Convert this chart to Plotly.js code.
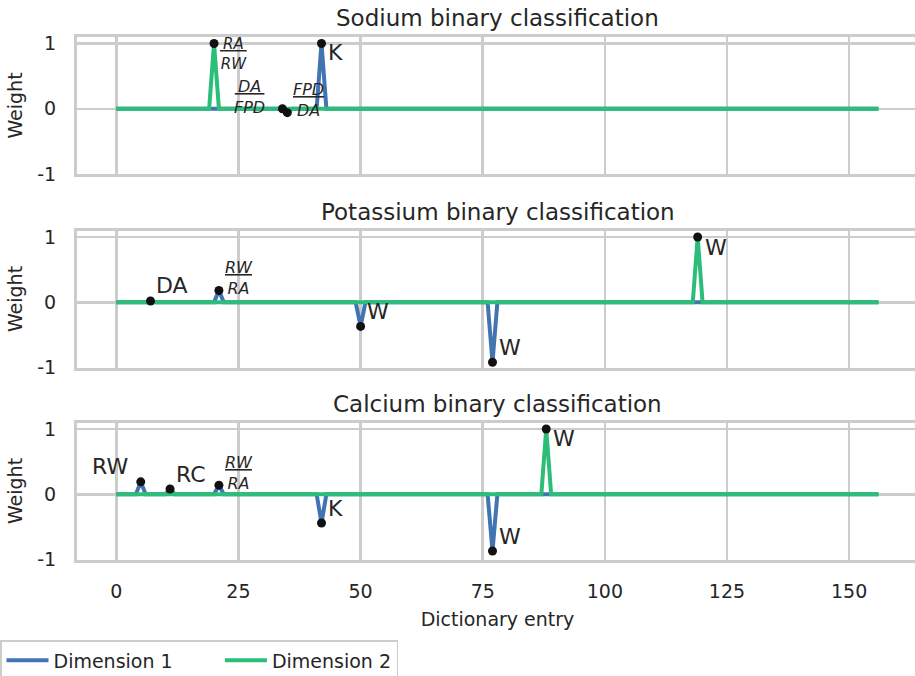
<!DOCTYPE html>
<html>
<head>
<meta charset="utf-8">
<script src="https://cdn.plot.ly/plotly-3.0.1.min.js"></script>
<style>
  html, body { margin: 0; padding: 0; overflow: hidden; background: #ffffff; }
</style>
</head>
<body>
<div id="chart"></div>
<script>
// ---- data -------------------------------------------------------------
const entryCount = 157;                 // dictionary entries 0 .. 156
const xTickVals = [0, 25, 50, 75, 100, 125, 150];
const yTickVals = [-1, 0, 1];
const yTickText = ['-1', '0', '1'];
const seriesNames = ['Dimension 1', 'Dimension 2'];
const panelTitles = ['Sodium binary classification',
                     'Potassium binary classification',
                     'Calcium binary classification'];

// non-zero weights of each dimension: entry index and weight
const sodiumDim1Idx = [34, 35, 42];
const sodiumDim1Val = [0.0, -0.06, 1.0];
const sodiumDim2Idx = [20];
const sodiumDim2Val = [1.0];
const sodiumLabelIdx = [20, 34, 35, 42];
const sodiumLabels = ['RA/RW', 'DA/FPD', 'FPD/DA', 'K'];

const potassiumDim1Idx = [7, 21, 50, 77];
const potassiumDim1Val = [0.02, 0.18, -0.37, -0.92];
const potassiumDim2Idx = [119];
const potassiumDim2Val = [1.0];
const potassiumLabelIdx = [7, 21, 50, 77, 119];
const potassiumLabels = ['DA', 'RW/RA', 'W', 'W', 'W'];

const calciumDim1Idx = [5, 11, 21, 42, 77];
const calciumDim1Val = [0.19, 0.08, 0.14, -0.44, -0.87];
const calciumDim2Idx = [88];
const calciumDim2Val = [1.0];
const calciumLabelIdx = [5, 11, 21, 42, 77, 88];
const calciumLabels = ['RW', 'RC', 'RW/RA', 'K', 'W', 'W'];

// ---- label placement (pixel offsets from the marked point) -------------
const sodiumLabelPlace = [
  {dx: 5, dy: 10, anchor: 'left', size: 15, pad: true},
  {dx: -16, dy: -12, anchor: 'right', size: 16, pad: true},
  {dx: 5, dy: -12.5, anchor: 'left', size: 16, pad: false},
  {dx: 5, dy: 9, anchor: 'left', size: 22}
];
const potassiumLabelPlace = [
  {dx: 4, dy: -15, anchor: 'left', size: 22},
  {dx: 5, dy: -12.5, anchor: 'left', size: 16, pad: false},
  {dx: 5, dy: -15, anchor: 'left', size: 22},
  {dx: 5.5, dy: -15, anchor: 'left', size: 22},
  {dx: 6, dy: 10, anchor: 'left', size: 22}
];
const calciumLabelPlace = [
  {dx: -12, dy: -15, anchor: 'right', size: 22},
  {dx: 4.5, dy: -14.5, anchor: 'left', size: 22},
  {dx: 5, dy: -12.5, anchor: 'left', size: 16, pad: false},
  {dx: 5.5, dy: -14.5, anchor: 'left', size: 22},
  {dx: 5.5, dy: -14.5, anchor: 'left', size: 22},
  {dx: 6, dy: 9.5, anchor: 'left', size: 22}
];

// ---- styling ----------------------------------------------------------
const FONT = 'DejaVu Sans, Liberation Sans, sans-serif';
const TEXT = '#262626';
const GRID = '#cccccc';
const COLORS = ['#4274b4', '#2cbe78'];
const W = 918, H = 676, ML = 77;
// panel plot areas, in pixels from the top of the figure
const panelPx = [[37, 174], [230.5, 367.5], [422.5, 559.5]];
// extra room after each legend entry (non-breaking spaces)
const legendGap = ['\u00a0'.repeat(7), ''];

const entries = Array.from({length: entryCount}, (_, i) => i);
function dense(idx, val) {
  const y = new Array(entryCount).fill(0);
  idx.forEach((i, k) => { y[i] = val[k]; });
  return y;
}

const panels = [
  {d1: dense(sodiumDim1Idx, sodiumDim1Val), d2: dense(sodiumDim2Idx, sodiumDim2Val),
   li: sodiumLabelIdx, lt: sodiumLabels, lp: sodiumLabelPlace},
  {d1: dense(potassiumDim1Idx, potassiumDim1Val), d2: dense(potassiumDim2Idx, potassiumDim2Val),
   li: potassiumLabelIdx, lt: potassiumLabels, lp: potassiumLabelPlace},
  {d1: dense(calciumDim1Idx, calciumDim1Val), d2: dense(calciumDim2Idx, calciumDim2Val),
   li: calciumLabelIdx, lt: calciumLabels, lp: calciumLabelPlace}
];

function fractionHtml(text, pad) {
  const [num, den] = text.split('/');
  const p = pad ? '\u2009' : '';
  return '<i><span style="text-decoration:underline;text-decoration-thickness:1.5px;text-underline-offset:3px">' +
         p + num + p + '</span></i><br><i>' + den + '</i>';
}

const traces = [];
const annotations = [];
const layout = {
  width: W, height: H,
  margin: {l: ML, r: 0, t: 0, b: 0, autoexpand: false},
  paper_bgcolor: '#ffffff', plot_bgcolor: '#ffffff',
  font: {family: FONT, color: TEXT, size: 19},
  showlegend: true,
  legend: {
    orientation: 'h', xref: 'container', yref: 'container',
    x: 0, xanchor: 'left', y: 1 - 640 / H, yanchor: 'top',
    bordercolor: GRID, borderwidth: 1.5, bgcolor: '#ffffff',
    font: {family: FONT, size: 19, color: TEXT},
    itemwidth: 42, traceorder: 'normal'
  }
};

panels.forEach((p, k) => {
  const n = k === 0 ? '' : String(k + 1);
  const xa = 'x' + n, ya = 'y' + n;
  [p.d1, p.d2].forEach((ys, s) => {
    traces.push({
      type: 'scatter', mode: 'lines', x: entries, y: ys,
      xaxis: xa, yaxis: ya, name: seriesNames[s] + legendGap[s],
      line: {color: COLORS[s], width: 4},
      showlegend: k === 0, legendgroup: seriesNames[s], hoverinfo: 'skip'
    });
  });
  // marked entries take the weight of the dimension that carries them
  const my = p.li.map(i => Math.abs(p.d2[i]) > Math.abs(p.d1[i]) ? p.d2[i] : p.d1[i]);
  traces.push({
    type: 'scatter', mode: 'markers', x: p.li, y: my,
    xaxis: xa, yaxis: ya, showlegend: false, hoverinfo: 'skip',
    marker: {color: '#111111', size: 9, line: {width: 0}}
  });
  p.li.forEach((i, j) => {
    const pl = p.lp[j];
    const txt = p.lt[j];
    const isFrac = txt.indexOf('/') >= 0;
    annotations.push({
      xref: xa, yref: ya, x: i, y: my[j],
      text: isFrac ? fractionHtml(txt, pl.pad) : txt,
      showarrow: false, xanchor: pl.anchor, yanchor: 'middle', align: 'center',
      xshift: pl.dx, yshift: -pl.dy,
      font: {family: FONT, size: pl.size, color: TEXT}, borderpad: 0
    });
  });

  const [top, bot] = panelPx[k];
  layout['xaxis' + n] = {
    domain: [0, 1], anchor: ya, range: [-8.05, 164.1],
    tickmode: 'array', tickvals: xTickVals,
    showticklabels: k === 2,
    ticks: 'outside', ticklen: 13, tickcolor: 'rgba(0,0,0,0)',
    tickfont: {family: FONT, size: 19, color: TEXT},
    showgrid: true, gridcolor: GRID, gridwidth: 2.5,
    zeroline: false, showline: true, linecolor: GRID, linewidth: 3, mirror: true,
    fixedrange: true,
    title: k === 2 ? {text: 'Dictionary entry', standoff: 12,
                      font: {family: FONT, size: 19, color: TEXT}} : {text: ''}
  };
  if (k > 0) layout['xaxis' + n].matches = 'x';
  layout['yaxis' + n] = {
    domain: [1 - bot / H, 1 - top / H], anchor: xa, range: [-1, 1.1],
    tickmode: 'array', tickvals: yTickVals, ticktext: yTickText,
    ticks: 'outside', ticklen: 14, tickcolor: 'rgba(0,0,0,0)',
    tickfont: {family: FONT, size: 19, color: TEXT},
    showgrid: true, gridcolor: GRID, gridwidth: 2.5,
    zeroline: true, zerolinecolor: GRID, zerolinewidth: 2.5,
    showline: true, linecolor: GRID, linewidth: 3, mirror: true,
    fixedrange: true,
    title: {text: 'Weight', standoff: 10, font: {family: FONT, size: 19, color: TEXT}}
  };
  annotations.push({
    xref: 'paper', yref: 'paper', x: 0.5, y: 1 - (top - 19) / H,
    xanchor: 'center', yanchor: 'middle', showarrow: false,
    text: panelTitles[k], font: {family: FONT, size: 23, color: TEXT}
  });
});

layout.annotations = annotations;
Plotly.newPlot('chart', traces, layout, {displayModeBar: false, staticPlot: true});
</script>
</body>
</html>
